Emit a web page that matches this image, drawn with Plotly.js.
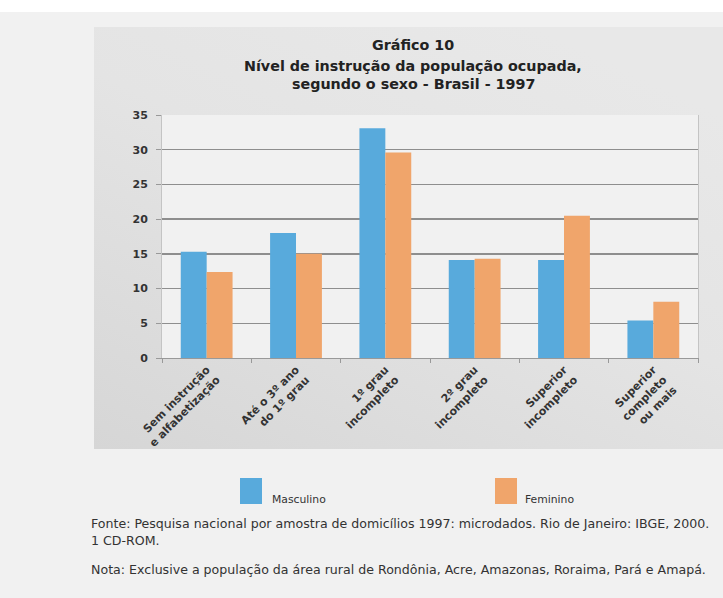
<!DOCTYPE html>
<html><head><meta charset="utf-8">
<script src="https://cdn.plot.ly/plotly-3.0.1.min.js"></script>
<style>html,body{margin:0;padding:0;background:#f1f1f1}</style>
</head><body><div id="chart" style="width:723px;height:598px"></div>
<script>
const categories = ["Sem instrução<br>e alfabetização","Até o 3º ano<br>do 1º grau","1º grau<br>incompleto","2º grau<br>incompleto","Superior<br>incompleto","Superior<br>completo<br>ou mais"];
const masculino = [15.3, 18.0, 33.1, 14.1, 14.1, 5.4];
const feminino = [12.4, 15.0, 29.6, 14.3, 20.5, 8.1];
const seriesNames = ["Masculino", "Feminino"];
const yTicks = [0, 5, 10, 15, 20, 25, 30, 35];
const titleLines = ["Gráfico 10", "Nível de instrução da população ocupada,", "segundo o sexo - Brasil - 1997"];
const fonteLines = ["Fonte: Pesquisa nacional por amostra de domicílios 1997: microdados. Rio de Janeiro: IBGE, 2000.", "1 CD-ROM."];
const notaText = "Nota: Exclusive a população da área rural de Rondônia, Acre, Amazonas, Roraima, Pará e Amapá.";

const W = 723, H = 598;
const L = 162, R = 698, T = 115, B = 358;
const px = x => (x - L) / (R - L);
const py = y => (B - y) / (B - T);
const colors = ["#58aadc", "#f0a56b"];
const FONT = "DejaVu Sans, Liberation Sans, Arial, sans-serif";

const traces = [
  {type: "bar", x: categories, y: masculino, name: seriesNames[0], marker: {color: colors[0]}},
  {type: "bar", x: categories, y: feminino, name: seriesNames[1], marker: {color: colors[1]}}
];

const gradSvg = '<svg xmlns="http://www.w3.org/2000/svg" width="629" height="422" viewBox="0 0 629 422" preserveAspectRatio="none">' +
  '<defs><linearGradient id="g" x1="0" y1="1" x2="0.7" y2="0">' +
  '<stop offset="0" stop-color="#d6d6d6"/><stop offset="0.6" stop-color="#e4e4e4"/><stop offset="1" stop-color="#e8e8e8"/>' +
  '</linearGradient></defs><rect width="629" height="422" fill="url(#g)"/></svg>';

const shapes = [
  {type: "rect", xref: "paper", yref: "paper", x0: px(0), x1: px(W), y0: py(0), y1: py(12), fillcolor: "#ffffff", line: {width: 0}, layer: "below"},
  {type: "rect", xref: "paper", yref: "paper", x0: 0, x1: 1, y0: 0, y1: 1, fillcolor: "#f1f1f1", line: {width: 0}, layer: "below"},
  {type: "rect", xref: "paper", yref: "paper", x0: px(240), x1: px(262), y0: py(478), y1: py(504), fillcolor: colors[0], line: {width: 0}},
  {type: "rect", xref: "paper", yref: "paper", x0: px(495), x1: px(517), y0: py(478), y1: py(504), fillcolor: colors[1], line: {width: 0}}
];

const annotations = [];
const titleY = [45, 66, 84];
titleLines.forEach((t, i) => annotations.push({
  text: "<b>" + t + "</b>", xref: "paper", yref: "paper", x: px(413), y: py(titleY[i]),
  xanchor: "center", yanchor: "middle", showarrow: false,
  font: {family: FONT, size: 14.3, color: "#222"}
}));
[[270, seriesNames[0]], [523, seriesNames[1]]].forEach(([x, t]) => annotations.push({
  text: t, xref: "paper", yref: "paper", x: px(x), y: py(499), xanchor: "left", yanchor: "middle",
  showarrow: false, font: {family: FONT, size: 10.8, color: "#333"}
}));
const footY = [523, 540];
fonteLines.forEach((t, i) => annotations.push({
  text: t, xref: "paper", yref: "paper", x: px(89), y: py(footY[i]), xanchor: "left", yanchor: "middle",
  showarrow: false, font: {family: FONT, size: 12.6, color: "#333"}
}));
annotations.push({
  text: notaText, xref: "paper", yref: "paper", x: px(89), y: py(569), xanchor: "left", yanchor: "middle",
  showarrow: false, font: {family: FONT, size: 12.6, color: "#333"}
});

const layout = {
  width: W, height: H,
  margin: {l: L, r: W - R, t: T, b: H - B, pad: 0},
  paper_bgcolor: "#f1f1f1",
  plot_bgcolor: "#f1f1f1",
  showlegend: false,
  barmode: "group",
  bargap: 0.42,
  bargroupgap: 0,
  xaxis: {
    type: "category", tickangle: -45, tickson: "boundaries", ticks: "outside", ticklen: 4,
    tickcolor: "#999", showline: true, linecolor: "#999", linewidth: 1, showgrid: false,
    tickfont: {family: FONT, size: 11, color: "#333", weight: "bold"}, automargin: false
  },
  yaxis: {
    range: [0, 35], tickvals: yTicks, ticks: "outside", ticklen: 5, tickcolor: "#999",
    showgrid: true, gridcolor: "#8e8e8e", gridwidth: 1.5, zeroline: false,
    showline: true, linecolor: "#c4c4c4", linewidth: 1, mirror: true,
    tickfont: {family: FONT, size: 11, color: "#333", weight: "bold"}, automargin: false, ticklabelstandoff: 6
  },
  images: [{
    source: "data:image/svg+xml;charset=utf-8," + encodeURIComponent(gradSvg),
    xref: "paper", yref: "paper", x: px(94), y: py(27), sizex: px(723) - px(94), sizey: py(27) - py(449),
    xanchor: "left", yanchor: "top", sizing: "stretch", layer: "below"
  }],
  shapes: shapes,
  annotations: annotations
};

Plotly.newPlot("chart", traces, layout, {displayModeBar: false, staticPlot: true});
</script></body></html>
